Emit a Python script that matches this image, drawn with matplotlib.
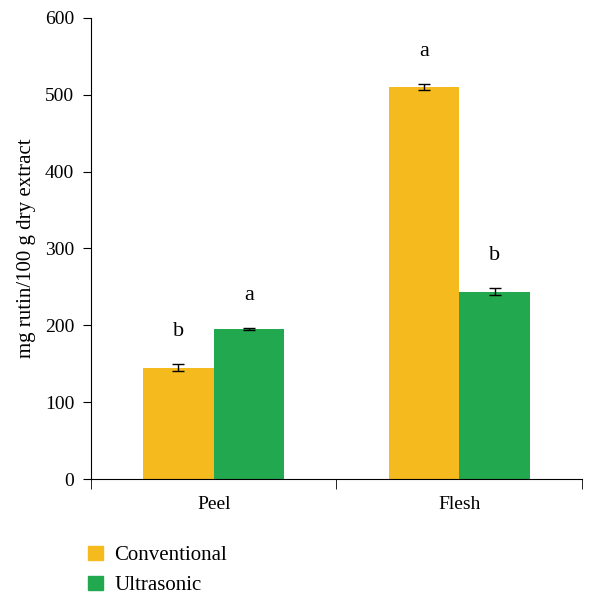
import numpy as np
import matplotlib.pyplot as plt
from matplotlib.patches import Patch

plt.rcParams['font.family'] = ['Liberation Serif', 'DejaVu Serif']

categories = ["Peel", "Flesh"]
conventional = [145, 510]
conventional_err = [5, 4]
ultrasonic = [195, 244]
ultrasonic_err = [1, 5]
conv_letters = ["b", "a"]
ultra_letters = ["a", "b"]

yellow = "#F5BA1E"
green = "#22A84F"

fig = plt.figure(figsize=(6.14, 5.94), dpi=100)
ax = fig.add_axes([0.148, 0.1936, 0.800, 0.7761])

x = np.arange(len(categories)) + 0.5
w = 0.287
ax.bar(x - w / 2, conventional, width=w, color=yellow, yerr=conventional_err,
       error_kw=dict(ecolor="black", elinewidth=1, capsize=4, capthick=1))
ax.bar(x + w / 2, ultrasonic, width=w, color=green, yerr=ultrasonic_err,
       error_kw=dict(ecolor="black", elinewidth=1, capsize=4, capthick=1))

for xi, v, e, t in zip(x - w / 2, conventional, conventional_err, conv_letters):
    ax.text(xi, v + e + 30, t, ha="center", va="bottom", fontsize=16)
for xi, v, e, t in zip(x + w / 2, ultrasonic, ultrasonic_err, ultra_letters):
    ax.text(xi, v + e + 30, t, ha="center", va="bottom", fontsize=16)

ax.set_xlim(0, 2)
ax.set_ylim(0, 600)
ax.set_yticks(range(0, 601, 100))
ax.set_xticks(x)
ax.set_xticklabels(categories)
ax.set_xticks([0, 1, 2], minor=True)
ax.tick_params(axis="x", which="major", length=0, labelsize=14, pad=12)
ax.tick_params(axis="x", which="minor", length=7, direction="out")
ax.tick_params(axis="y", length=6, labelsize=14, pad=6)
ax.spines["top"].set_visible(False)
ax.spines["right"].set_visible(False)
ax.set_ylabel("mg rutin/100 g dry extract", fontsize=15, labelpad=6)

handles = [Patch(color=yellow, label="Conventional"), Patch(color=green, label="Ultrasonic")]
fig.legend(handles=handles, loc="upper left", bbox_to_anchor=(0.12, 0.106),
           frameon=False, fontsize=15, handlelength=0.7, handleheight=0.7,
           handletextpad=0.55, labelspacing=0.5, borderpad=0.2)

fig.savefig("out.png", dpi=100)
